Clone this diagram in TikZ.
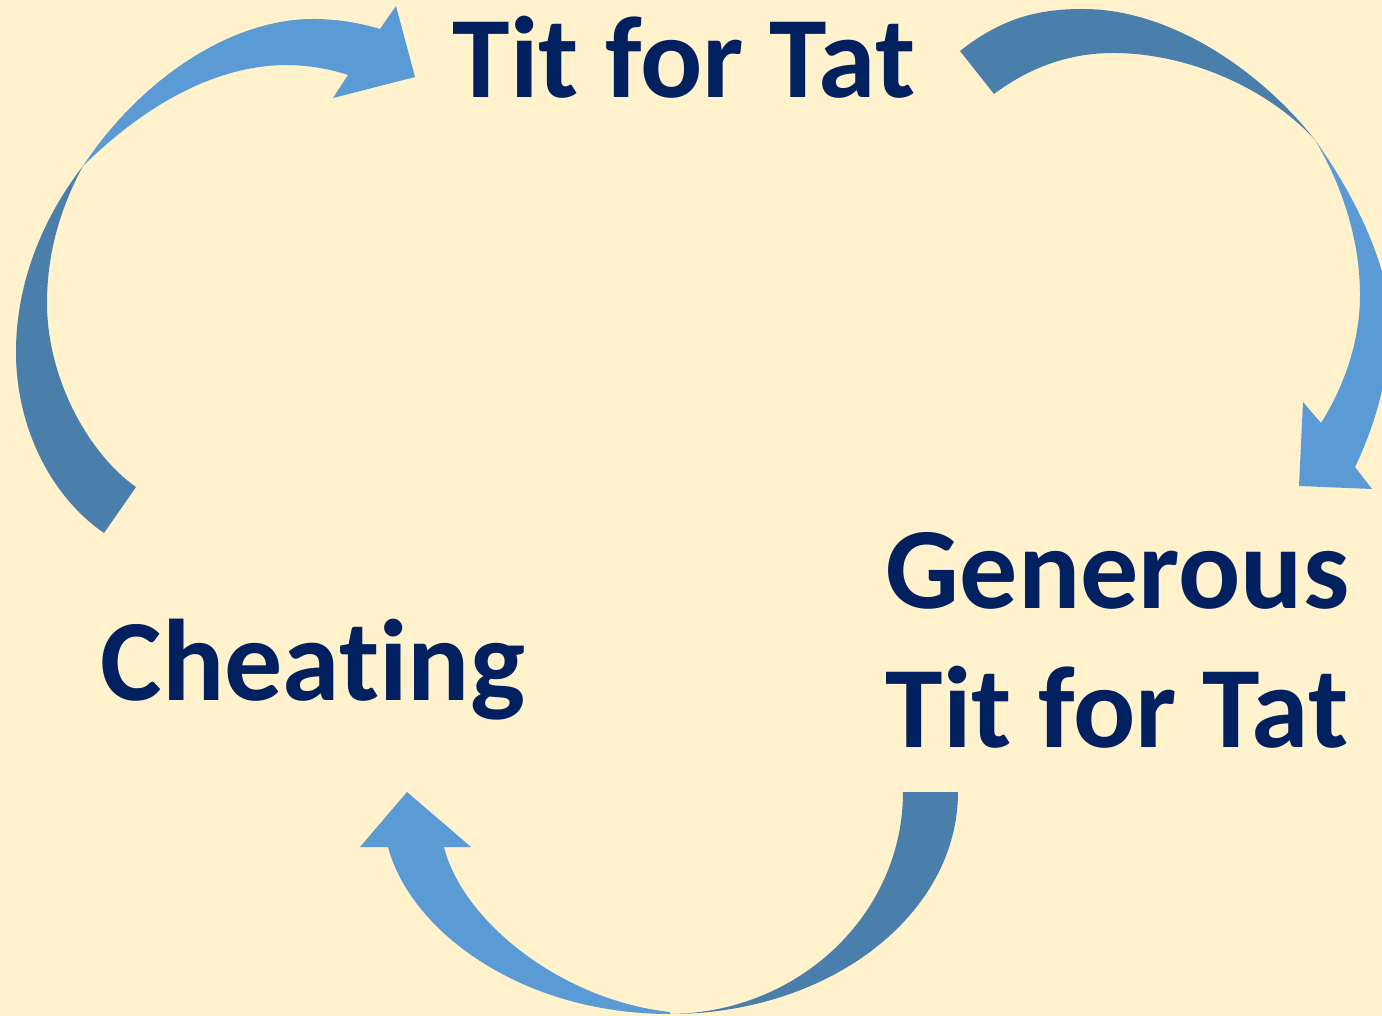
\documentclass[tikz,border=0pt]{standalone}
\usepackage{fontspec}
\setmainfont{Carlito}[Ligatures=NoCommon]
\definecolor{paper}{RGB}{255,242,204}
\definecolor{navy}{RGB}{0,32,96}
\definecolor{arrowback}{RGB}{74,126,171}
\definecolor{arrowfront}{RGB}{91,155,213}
\begin{document}
\begin{tikzpicture}[x=0.01cm,y=-0.01cm,
    back/.style={fill=arrowback},
    front/.style={fill=arrowfront},
    lbl/.style={text=navy,font=\fontsize{33}{39.8}\selectfont\bfseries,inner sep=0pt}]

    \fill[paper] (0,0) rectangle (1382,1016);
    \useasboundingbox (0,0) rectangle (1382,1016);
    \clip (0,0) rectangle (1382,1016);

    % labels
    \node[lbl,anchor=base west] (ttt) at (452,98) {Tit for Tat};
    \node[lbl,anchor=base west] (cheat) at (100,700) {Cheating};
    \node[lbl,anchor=base west,align=left] (gttt) at (885,748) {Generous\\Tit for Tat};

    % Cheating -> Tit for Tat
    \fill[back] (104,533) .. controls (53,498) and (16,430) .. (16,352)
        .. controls (16,280) and (45,215) .. (83,166)
        .. controls (62,205) and (47,250) .. (47,303)
        .. controls (47,380) and (90,455) .. (136,487) -- cycle;
    \fill[front] (83,166) .. controls (140,80) and (230,19) .. (313,19)
        .. controls (338,19) and (360,23) .. (380,29)
        -- (396,6) -- (415,77) -- (333,98) -- (348,75)
        .. controls (330,69) and (308,65) .. (285,65)
        .. controls (210,66) and (140,110) .. (83,166) -- cycle;

    % Tit for Tat -> Generous Tit for Tat
    \fill[back] (960,51) .. controls (1003,17) and (1040,9) .. (1083,9)
        .. controls (1170,9) and (1260,70) .. (1315,140)
        .. controls (1270,90) and (1190,53) .. (1113,53)
        .. controls (1070,53) and (1030,67) .. (994,94) -- cycle;
    \fill[front] (1315,140) .. controls (1365,210) and (1392,280) .. (1390,330)
        .. controls (1388,380) and (1375,425) .. (1355,467)
        -- (1372,489) -- (1299,486) -- (1303,402) -- (1321,423)
        .. controls (1345,385) and (1360,340) .. (1360,295)
        .. controls (1360,245) and (1345,190) .. (1315,140) -- cycle;

    % Generous Tit for Tat -> Cheating
    \fill[back] (903,792) -- (958,792)
        .. controls (958,915) and (829,1014) .. (670,1014)
        .. controls (799,1013) and (903,914) .. (903,792) -- cycle;
    \fill[front] (670,1014) .. controls (520,1014) and (410,930) .. (388,847)
        -- (360,847) -- (407,792) -- (471,847) -- (444,847)
        .. controls (462,920) and (560,1000) .. (670,1012) -- cycle;
\end{tikzpicture}
\end{document}
